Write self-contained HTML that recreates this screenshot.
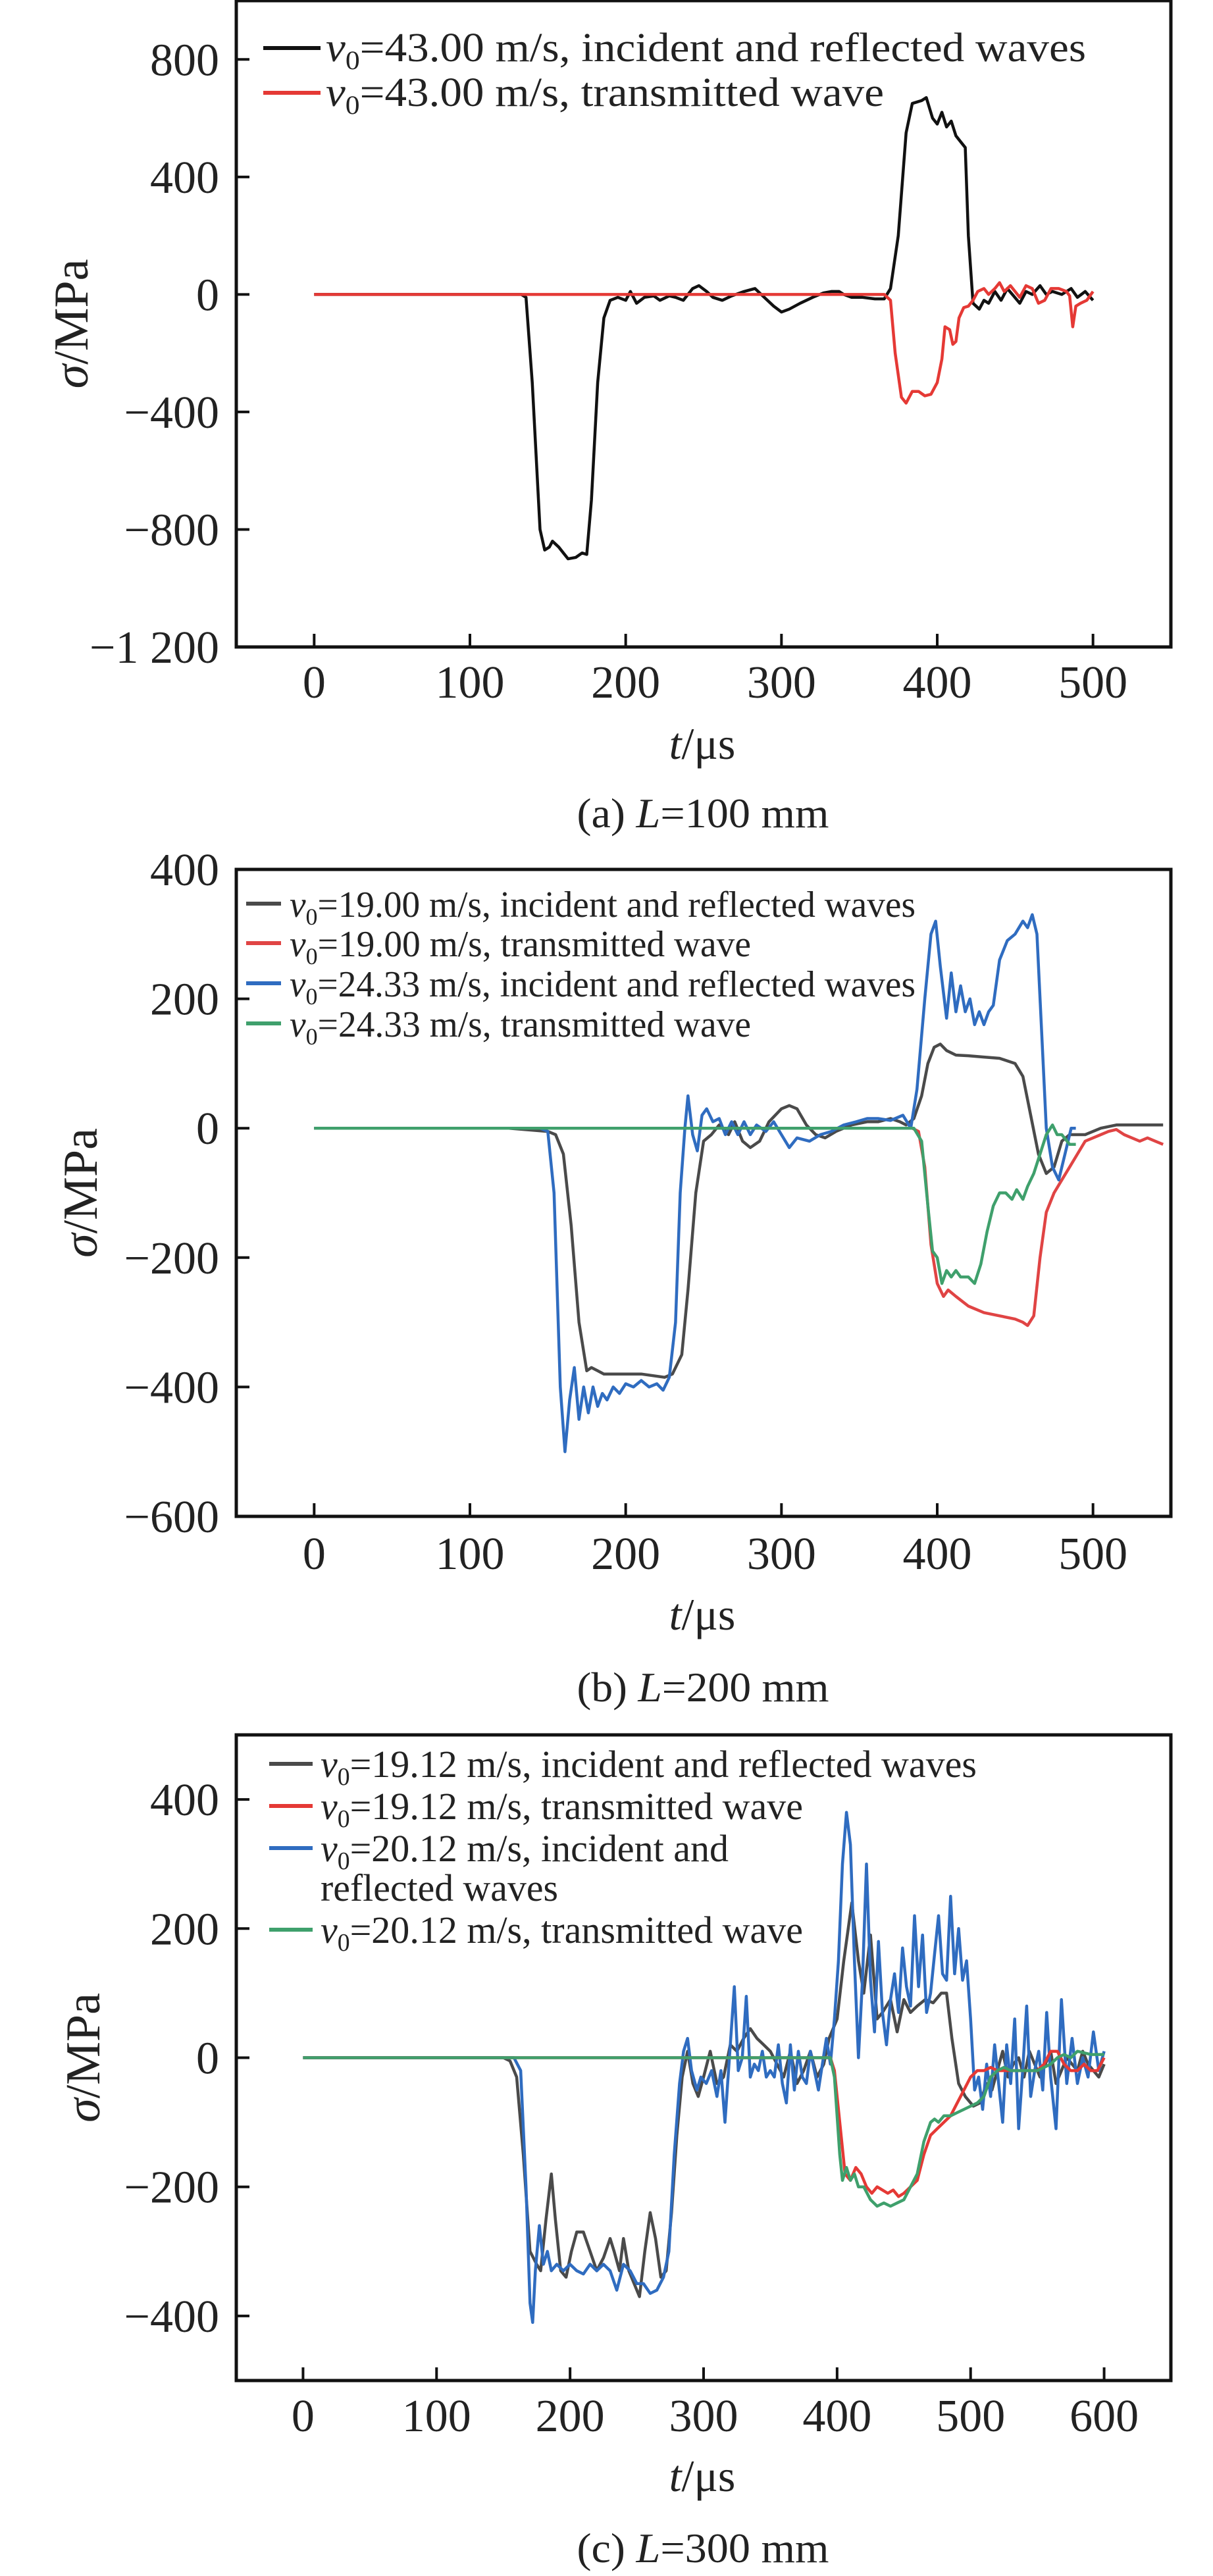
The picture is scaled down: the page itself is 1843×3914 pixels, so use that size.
<!DOCTYPE html>
<html><head><meta charset="utf-8"><title>Stress waves</title>
<style>
html,body{margin:0;padding:0;background:#fff;}
svg{display:block;font-family:"Liberation Serif",serif;}
</style></head>
<body>
<svg id="fig" width="1843" height="3914" viewBox="0 0 1843 3914" xmlns="http://www.w3.org/2000/svg"></svg>
<script>
// ---------- Panel (a) L=100 mm ----------
const aXTicks = [0,100,200,300,400,500];
const aYTicks = [800,400,0,-400,-800,-1200];
const aYTickLabels = ["800","400","0","\u2212400","\u2212800","\u22121 200"];
const aIncT = [0,133,136,140,145,148,151,153,157,160,163,168,172,175,178,182,186,190,195,200,203,207,212,218,222,228,232,237,243,247,252,256,262,268,276,283,288,295,300,305,312,320,327,332,337,340,345,352,360,366,370,375,380,384,390,393,397,400,403,406,409,412,415,418,420,423,427,430,433,437,441,445,449,453,457,461,466,470,474,480,486,490,495,500];
const aIncV = [0,0,-10,-300,-800,-870,-860,-840,-860,-880,-900,-895,-880,-885,-700,-300,-80,-20,-10,-20,10,-30,-10,-5,-20,-5,-10,-20,20,30,10,-10,-20,-5,10,20,-5,-40,-60,-50,-30,-10,5,10,10,0,-10,-10,-15,-15,20,200,550,650,660,670,600,580,620,570,590,540,520,500,200,-30,-50,-20,-30,10,-20,20,-5,-30,10,0,30,0,10,0,20,-10,10,-20];
const aTrT = [0,366,370,373,377,380,384,388,392,396,400,403,405,408,410,412,414,417,420,423,426,430,433,437,440,443,447,450,453,457,461,465,469,473,478,483,485,487,489,492,496,500];
const aTrV = [0,0,-20,-200,-350,-370,-330,-330,-345,-340,-300,-220,-110,-120,-170,-160,-80,-45,-40,-20,10,20,0,20,40,10,30,10,-10,30,20,-30,-20,20,20,10,-5,-110,-40,-30,-20,10];

// ---------- Panel (b) L=200 mm ----------
const bXTicks = [0,100,200,300,400,500];
const bYTicks = [400,200,0,-200,-400,-600];
const bYTickLabels = ["400","200","0","\u2212200","\u2212400","\u2212600"];
const b19IncT = [0,125,150,155,160,165,170,175,178,182,186,200,210,225,230,236,240,245,250,255,260,266,270,275,280,286,292,300,305,310,316,322,328,335,345,355,362,370,376,380,385,390,394,398,402,406,412,420,430,440,450,455,460,465,470,475,480,485,495,505,515,525,545];
const b19IncV = [0,0,-5,-10,-40,-150,-300,-375,-370,-375,-380,-380,-380,-385,-380,-350,-250,-100,-20,-10,5,-10,10,-20,-30,-20,10,30,35,30,5,-10,-15,-5,5,10,10,15,10,5,15,50,100,125,130,120,113,112,110,108,100,80,20,-40,-70,-60,-20,-10,-10,0,5,5,5];
const b19TrT = [0,384,388,392,396,400,404,407,412,420,430,440,450,455,458,462,466,470,475,480,485,490,495,500,505,510,515,520,525,530,535,540,545];
const b19TrV = [0,0,-5,-60,-180,-240,-260,-250,-260,-275,-285,-290,-295,-300,-305,-290,-200,-130,-100,-80,-60,-40,-20,-15,-10,-5,-2,-10,-15,-20,-15,-20,-25];
const b24IncT = [0,145,150,154,158,161,164,167,170,173,176,179,182,185,188,192,196,200,205,210,215,220,224,228,232,235,238,240,243,246,249,252,256,260,264,268,272,276,280,284,290,295,300,305,310,318,325,332,340,348,355,362,370,378,383,387,392,396,399,402,406,409,412,415,418,421,424,427,430,433,436,440,445,450,455,458,461,464,467,470,474,478,482,486,489];
const b24IncV = [0,0,-5,-100,-400,-500,-420,-370,-450,-400,-440,-400,-430,-410,-420,-400,-410,-395,-400,-390,-400,-395,-405,-385,-300,-100,0,50,-10,-35,20,30,10,15,-10,10,-10,10,-10,5,-5,10,-10,-30,-15,-20,-10,-5,5,10,15,15,12,20,0,60,200,300,320,250,170,240,180,220,180,200,160,180,160,180,190,260,290,300,320,310,330,300,150,0,-60,-80,-40,0,0];
const b24TrT = [0,385,390,394,397,400,403,406,409,412,415,420,424,428,432,436,440,444,448,451,455,458,462,466,470,474,477,480,485,489];
const b24TrV = [0,0,-20,-120,-190,-200,-240,-220,-230,-220,-230,-230,-240,-210,-160,-120,-100,-100,-110,-95,-110,-90,-70,-40,-10,5,-10,-10,-25,-25];

// ---------- Panel (c) L=300 mm ----------
const cXTicks = [0,100,200,300,400,500,600];
const cYTicks = [400,200,0,-200,-400];
const cYTickLabels = ["400","200","0","\u2212200","\u2212400"];
const c19IncT = [0,150,155,160,165,170,175,178,182,186,189,193,197,201,205,210,215,220,225,230,233,237,240,244,248,252,256,260,264,268,272,276,280,284,288,292,296,300,305,310,315,320,325,330,335,340,345,350,355,360,365,370,375,380,385,390,394,400,405,411,416,420,425,430,434,440,445,450,455,460,466,472,478,482,486,491,496,502,507,512,516,520,524,528,532,536,540,544,548,552,556,560,564,568,572,576,580,584,588,592,596,600];
const c19IncV = [0,0,-5,-30,-150,-300,-320,-330,-250,-180,-250,-330,-340,-300,-270,-270,-300,-330,-310,-280,-300,-330,-280,-330,-350,-370,-300,-240,-280,-340,-330,-240,-120,-30,10,-40,-60,-30,10,-40,-30,20,10,30,45,30,20,10,-10,-30,10,-40,-20,10,-30,-10,30,60,150,240,150,100,190,60,70,90,40,90,70,80,90,85,100,100,30,-40,-60,-75,-70,-40,-50,-20,10,-30,-10,0,-30,10,-10,-30,-10,10,-40,-20,0,-10,-20,10,-10,-20,-30,-10];
const c20IncT = [0,158,163,167,170,172,174,177,180,183,186,190,195,200,205,210,215,220,225,230,235,240,245,250,255,260,265,270,274,278,282,285,288,291,295,298,302,306,310,313,316,320,323,326,329,332,335,338,341,344,347,350,353,356,359,362,365,368,371,374,377,380,383,386,389,392,395,398,401,404,407,410,413,416,419,422,425,428,431,434,437,440,443,446,449,452,455,458,461,464,467,470,473,476,479,482,485,488,491,494,497,500,503,506,509,512,515,518,521,524,527,530,533,536,539,542,545,548,551,554,557,560,564,568,572,576,580,584,588,592,596,600];
const c20IncV = [0,0,-20,-200,-380,-410,-330,-260,-320,-300,-330,-320,-330,-320,-330,-335,-320,-330,-320,-330,-360,-320,-330,-350,-350,-365,-360,-340,-300,-150,-40,10,30,-20,-50,-30,-40,-20,-60,-20,-100,20,110,-20,0,95,-30,-10,-20,10,-30,-20,-30,20,-40,-70,20,-50,10,-30,-40,10,-20,-50,-10,30,-10,60,150,300,380,330,150,0,120,300,120,40,180,70,20,90,130,70,170,110,80,220,110,190,70,100,160,220,130,120,250,130,200,120,150,60,-50,-30,-80,-10,-60,20,-40,-100,20,-40,60,-110,-20,80,-60,-20,10,-50,70,-30,-110,90,-40,30,-40,0,-30,40,-20,10,-10,50,0];
const c19TrT = [0,395,398,402,406,410,414,418,422,426,430,434,438,442,446,450,455,460,465,470,475,480,485,490,495,500,505,510,515,520,530,540,550,555,560,565,570,575,580,585,590,595,600];
const c19TrV = [0,0,-20,-100,-180,-190,-170,-180,-200,-210,-200,-205,-210,-205,-215,-210,-200,-190,-150,-120,-110,-100,-90,-70,-50,-30,-20,-20,-15,-20,-20,-20,-20,-10,10,10,-10,-20,-20,-10,-20,-20,0];
const c20TrT = [0,395,398,402,404,407,410,413,416,420,425,430,435,440,445,450,455,460,465,470,473,476,480,485,490,495,500,505,510,515,520,525,530,540,550,560,565,570,575,580,590,600];
const c20TrV = [0,0,-30,-150,-190,-170,-190,-180,-200,-200,-220,-230,-225,-230,-225,-220,-200,-180,-130,-100,-95,-100,-90,-90,-85,-80,-75,-70,-60,-30,-20,-15,-20,-20,-20,-10,0,5,0,10,5,5];

const SVGNS = "http://www.w3.org/2000/svg";
const fig = document.getElementById('fig');
function mk(tag, attrs, parent){
  const e = document.createElementNS(SVGNS, tag);
  for (const k in attrs) e.setAttribute(k, attrs[k]);
  (parent||fig).appendChild(e);
  return e;
}

function drawPanel(p){
  const g = mk('g', {});
  
  
  const sx = v => p.left + (v - p.xmin) / (p.xmax - p.xmin) * (p.right - p.left);
  const sy = v => p.bottom - (v - p.ymin) / (p.ymax - p.ymin) * (p.bottom - p.top);
  p.series.forEach(s => {
    let d = '';
    for (let i = 0; i < s.t.length; i++) d += (i ? 'L' : 'M') + sx(s.t[i]).toFixed(1) + ' ' + sy(s.v[i]).toFixed(1);
    const path = mk('path', {d: d, fill: 'none', stroke: s.color, 'stroke-width': 4.5, 'stroke-linejoin': 'round'}, g);
    
    
  });
  const frame = mk('rect', {x: p.left, y: p.top, width: p.right - p.left, height: p.bottom - p.top, fill: 'none', stroke: '#111', 'stroke-width': 5}, g);
  
  
  p.xticks.forEach(v => {
    const x = sx(v);
    const tk = mk('line', {x1: x, x2: x, y1: p.bottom, y2: p.bottom - 20, stroke: '#111', 'stroke-width': 4}, g);
    
    
    const tl = mk('text', {x: x, y: p.xLabelY, 'font-size': 70, 'text-anchor': 'middle', fill: '#222'}, g);
    tl.textContent = String(v);
    
    
  });
  p.yticks.forEach((v, i) => {
    const y = sy(v);
    const tk = mk('line', {x1: p.left, x2: p.left + 20, y1: y, y2: y, stroke: '#111', 'stroke-width': 4}, g);
    
    
    const tl = mk('text', {x: 333, y: y + 24, 'font-size': 70, 'text-anchor': 'end', fill: '#222'}, g);
    tl.textContent = p.ytickLabels[i];
    
    
  });
  const xt = mk('text', {x: 1067, y: p.xTitleY, 'font-size': 68, 'text-anchor': 'middle', fill: '#222'}, g);
  xt.innerHTML = '<tspan font-style="italic">t</tspan>/\u03bcs';
  
  
  const yc = (p.top + p.bottom) / 2 + p.yTitleShift;
  const yt = mk('text', {x: 0, y: 0, 'font-size': 74, 'text-anchor': 'middle', fill: '#222', transform: 'translate(' + (p.yTitleX + 25) + ',' + yc + ') rotate(-90)'}, g);
  yt.innerHTML = '<tspan font-style="italic">\u03c3</tspan>/MPa';
  
  
  const cap = mk('text', {x: 1068, y: p.capY, 'font-size': 64, 'text-anchor': 'middle', fill: '#222', textLength: 383, lengthAdjust: 'spacingAndGlyphs'}, g);
  cap.innerHTML = p.caption;
  
  
  p.legend.forEach(L => {
    if (L.color) {
      const ln = mk('line', {x1: p.legX1, x2: p.legX2, y1: L.y, y2: L.y, stroke: L.color, 'stroke-width': 6}, g);
      
      
    }
    const t = mk('text', {x: p.legTX, y: L.y + 20, 'font-size': p.legFont, fill: '#222', textLength: L.w, lengthAdjust: 'spacingAndGlyphs'}, g);
    t.innerHTML = L.html;
    
    
  });
}
function vlab(rest){ return '<tspan font-style="italic">v</tspan><tspan font-size="0.65em" dy="12">0</tspan><tspan dy="-12">' + rest + '</tspan>'; }

drawPanel({
  name: 'panel-a-L100', left: 359, right: 1779, top: 1, bottom: 983,
  xmin: -50, xmax: 550, ymin: -1200, ymax: 1000,
  xticks: aXTicks, yticks: aYTicks, ytickLabels: aYTickLabels,
  xLabelY: 1060, xTitleY: 1153, capY: 1257, yTitleX: 108, yTitleShift: 0,
  caption: '(a) <tspan font-style="italic">L</tspan>=100 mm',
  series: [
    {id: 'a-incident-reflected-43', t: aIncT, v: aIncV, color: '#111111'},
    {id: 'a-transmitted-43', t: aTrT, v: aTrV, color: '#e53935'}
  ],
  legX1: 400, legX2: 487, legTX: 495, legFont: 62,
  legend: [
    {y: 73, color: '#111111', w: 1155, html: vlab('=43.00 m/s, incident and reflected waves')},
    {y: 141, color: '#e53935', w: 848, html: vlab('=43.00 m/s, transmitted wave')}
  ]
});
drawPanel({
  name: 'panel-b-L200', left: 359, right: 1779, top: 1321, bottom: 2304,
  xmin: -50, xmax: 550, ymin: -600, ymax: 400,
  xticks: bXTicks, yticks: bYTicks, ytickLabels: bYTickLabels,
  xLabelY: 2384, xTitleY: 2476, capY: 2585, yTitleX: 122, yTitleShift: 0,
  caption: '(b) <tspan font-style="italic">L</tspan>=200 mm',
  series: [
    {id: 'b-incident-reflected-19', t: b19IncT, v: b19IncV, color: '#4a4a4a'},
    {id: 'b-transmitted-19', t: b19TrT, v: b19TrV, color: '#e04444'},
    {id: 'b-incident-reflected-24', t: b24IncT, v: b24IncV, color: '#2f6cc0'},
    {id: 'b-transmitted-24', t: b24TrT, v: b24TrV, color: '#3fa06c'}
  ],
  legX1: 374, legX2: 427, legTX: 440, legFont: 56,
  legend: [
    {y: 1373, color: '#4a4a4a', w: 951, html: vlab('=19.00 m/s, incident and reflected waves')},
    {y: 1433, color: '#e04444', w: 701, html: vlab('=19.00 m/s, transmitted wave')},
    {y: 1494, color: '#2f6cc0', w: 951, html: vlab('=24.33 m/s, incident and reflected waves')},
    {y: 1555, color: '#3fa06c', w: 701, html: vlab('=24.33 m/s, transmitted wave')}
  ]
});
drawPanel({
  name: 'panel-c-L300', left: 359, right: 1779, top: 2636, bottom: 3617,
  xmin: -50, xmax: 650, ymin: -500, ymax: 500,
  xticks: cXTicks, yticks: cYTicks, ytickLabels: cYTickLabels,
  xLabelY: 3694, xTitleY: 3785, capY: 3893, yTitleX: 126, yTitleShift: 0,
  caption: '(c) <tspan font-style="italic">L</tspan>=300 mm',
  series: [
    {id: 'c-incident-reflected-19', t: c19IncT, v: c19IncV, color: '#4a4a4a'},
    {id: 'c-incident-reflected-20', t: c20IncT, v: c20IncV, color: '#2f6cc0'},
    {id: 'c-transmitted-19', t: c19TrT, v: c19TrV, color: '#e53935'},
    {id: 'c-transmitted-20', t: c20TrT, v: c20TrV, color: '#3fa06c'}
  ],
  legX1: 409, legX2: 475, legTX: 487, legFont: 58,
  legend: [
    {y: 2680, color: '#4a4a4a', w: 997, html: vlab('=19.12 m/s, incident and reflected waves')},
    {y: 2744, color: '#e53935', w: 733, html: vlab('=19.12 m/s, transmitted wave')},
    {y: 2808, color: '#2f6cc0', w: 620, html: vlab('=20.12 m/s, incident and')},
    {y: 2868, color: null, w: 361, html: 'reflected waves'},
    {y: 2932, color: '#3fa06c', w: 733, html: vlab('=20.12 m/s, transmitted wave')}
  ]
});
</script>
</body></html>
